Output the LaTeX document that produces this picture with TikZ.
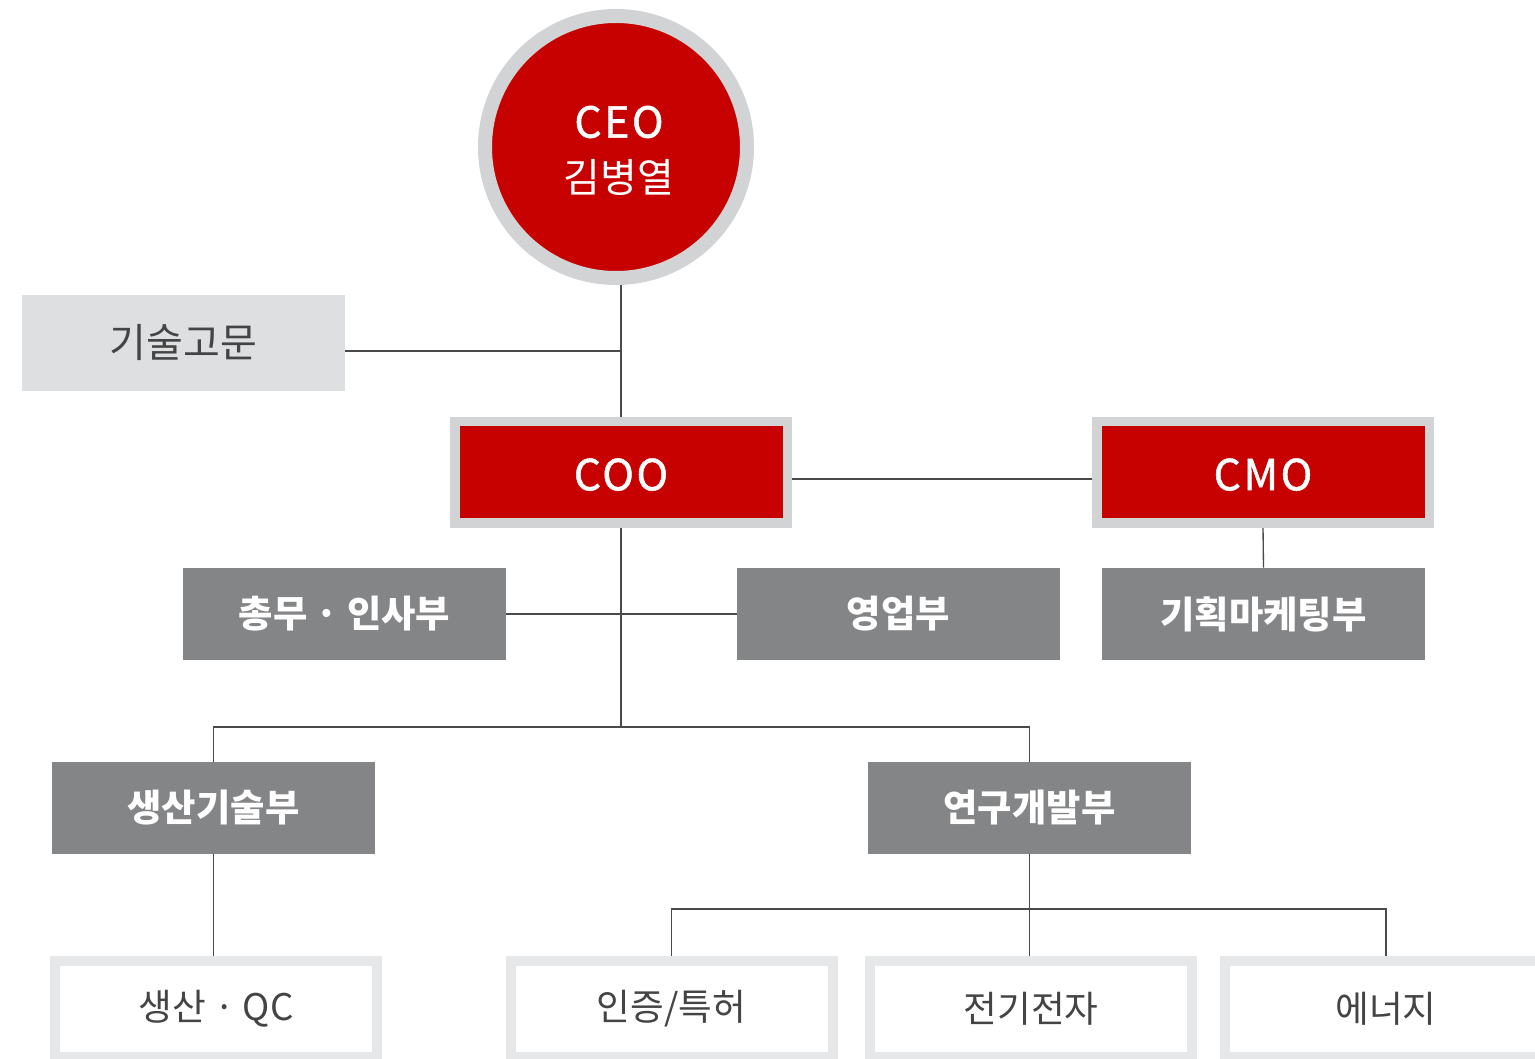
\documentclass[tikz,border=0pt]{standalone}
\usepackage{fontspec}
\setmainfont{Noto Sans CJK KR}
\newfontfamily\medfont{Noto Sans CJK KR}[FakeBold=1.2, LetterSpace=6]
\definecolor{cred}{HTML}{C70000}
\definecolor{cbord}{HTML}{D2D3D5}
\definecolor{cdark}{HTML}{848587}
\definecolor{clight}{HTML}{DEDFE1}
\definecolor{cbot}{HTML}{E6E7E8}
\definecolor{cline}{HTML}{4A4A4A}
\definecolor{ctext}{HTML}{444444}
\def\pxu{0.75pt}
\pgfdeclarelayer{bg}
\pgfsetlayers{bg,main}
\tikzset{
  conn/.style={draw=cline, line width=1pt},
  topbox/.style={rectangle, fill=cred, draw=cbord, line width={9.5*\pxu},
    minimum width={332.5*\pxu}, minimum height={101.5*\pxu}, inner sep=0pt,
    text height=27.35pt, text depth=0pt,
    text=white, font=\fontsize{32}{36}\medfont},
  deptbox/.style={rectangle, fill=cdark, minimum width={323*\pxu}, minimum height={92*\pxu},
    inner sep=0pt, text=white, font=\fontsize{28}{32}\selectfont\bfseries},
  botbox/.style={rectangle, fill=white, draw=cbot, line width={10*\pxu},
    minimum width={322*\pxu}, minimum height={96*\pxu}, inner sep=0pt,
    text=ctext, font=\fontsize{27.5}{32}\selectfont},
  txt/.style={inner sep=0pt, text=white}
}
\begin{document}
\begin{tikzpicture}[x=0.75pt,y=-0.75pt]
\useasboundingbox (0,0) rectangle (1535,1059);
% CEO
\node[circle, fill=cred, draw=cbord, line width={14*\pxu}, minimum size={262*\pxu}, inner sep=0pt] (ceo) at (616,147) {};
\node[txt, font=\fontsize{32}{36}\medfont] (ceot) at (619,122) {CEO};
\node[txt, font=\fontsize{30}{34}\selectfont] (ceon) at (619,177) {김병열};
% advisor
\node[rectangle, fill=clight, minimum width={323*\pxu}, minimum height={96*\pxu}, inner sep=0pt,
  text=ctext, font=\fontsize{30}{34}\selectfont] (adv) at (183.5,343) {기술고문};
% COO / CMO
\node[topbox] (coo) at (621,472) {COO};
\node[topbox] (cmo) at (1263,472) {CMO};
% departments
\node[deptbox] (gen) at (344.5,614) {총무 · 인사부};
\node[deptbox] (sales) at (898.5,614) {영업부};
\node[deptbox] (mkt) at (1263.5,614) {기획마케팅부};
\node[deptbox] (prod) at (213.5,808) {생산기술부};
\node[deptbox] (rnd) at (1029.5,808) {연구개발부};
% bottom
\node[botbox] (qc) at (216,1009) {생산 · QC};
\node[botbox] (cert) at (671.5,1009) {인증/특허};
\node[botbox] (elec) at (1031,1009) {전기전자};
\node[botbox] (ener) at (1386,1009) {에너지};
% junctions
\coordinate (j1) at (621,351);
\coordinate (h1) at (700,479);
\coordinate (j3) at (621,727);
\coordinate (j4) at (1029.5,909);
\begin{pgfonlayer}{bg}
\draw[conn] (coo.north) -- (coo.north |- ceo.center);
\draw[conn] (adv.east |- j1) -- (j1);
\draw[conn] (coo.east |- h1) -- (cmo.west |- h1);
\draw[conn] (cmo.south) -- (mkt.north);
\draw[conn] (coo.south) -- (j3);
\draw[conn] (gen.east) -- (sales.west);
\draw[conn] (prod.north) |- (j3) -| (rnd.north);
\draw[conn] (prod.south) -- (prod.south |- qc.north);
\draw[conn] (rnd.south) -- (rnd.south |- elec.north);
\draw[conn] (cert.north) |- (j4) -| (ener.north);
\end{pgfonlayer}
\end{tikzpicture}
\end{document}
